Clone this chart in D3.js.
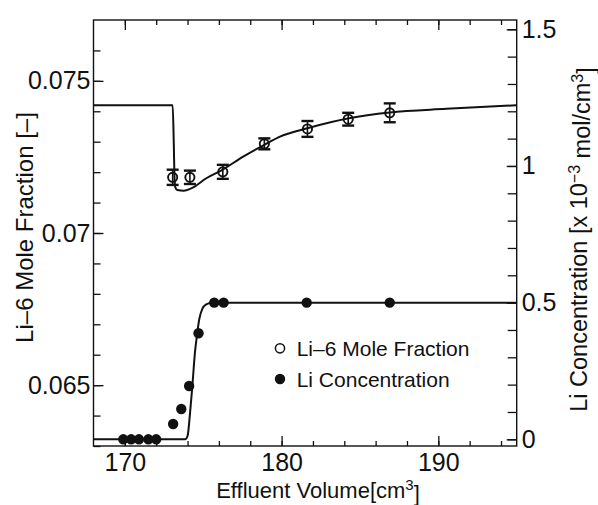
<!DOCTYPE html>
<html>
<head>
<meta charset="utf-8">
<script src="https://cdn.jsdelivr.net/npm/d3@7"></script>
<style>
  html, body { margin: 0; padding: 0; background: #fff; }
  svg { display: block; }
  text { font-family: "Liberation Sans", Arial, Helvetica, sans-serif; fill: #111; }
</style>
</head>
<body>
<svg id="chart" width="598" height="505"></svg>
<script>
// ---- Data ----
// Li-6 mole fraction measurements (open circles, with error bars)
const li6X   = [173.05, 174.15, 176.25, 178.9, 181.65, 184.25, 186.9];
const li6Y   = [0.07183, 0.07183, 0.07201, 0.07293, 0.07342, 0.07374, 0.07395];
const li6Err = [0.00025, 0.00022, 0.00023, 0.00018, 0.00026, 0.00021, 0.00031];

// Li concentration measurements (filled circles), x 10^-3 mol/cm^3
const concX = [169.9, 170.4, 170.9, 171.5, 172.0, 173.08, 173.6, 174.1, 174.7, 175.7, 176.3, 181.6, 186.9];
const concY = [0, 0, 0, 0, 0, 0.056, 0.111, 0.195, 0.388, 0.5, 0.5, 0.5, 0.5];

// Calculated curves
const li6FitX = [168, 173.05, 173.12, 173.17, 173.22, 173.35, 173.75, 174.36, 175.2, 176.2, 177.55, 178.9, 179.9, 181.7, 184.3, 186.9, 190.5, 195];
const li6FitY = [0.0742, 0.0742, 0.0730, 0.0718, 0.0715, 0.07141, 0.07139, 0.0715, 0.0718, 0.07207, 0.07251, 0.0729, 0.07317, 0.07345, 0.07377, 0.07396, 0.07408, 0.0742];

const concFitX = [168, 173.85, 174.0, 174.15, 174.3, 174.47, 174.6, 174.75, 174.95, 175.2, 175.55, 195];
const concFitY = [0, 0, 0.012, 0.09, 0.19, 0.316, 0.38, 0.44, 0.478, 0.494, 0.5, 0.5];

// Ticks
const xMajorTicks = [170, 180, 190];
const xMinorTicks = [170, 172, 174, 176, 178, 180, 182, 184, 186, 188, 190, 192, 194];
const yLMajorTicks = [0.065, 0.07, 0.075];
const yLMinorTicks = [0.063, 0.064, 0.065, 0.066, 0.067, 0.068, 0.069, 0.07, 0.071, 0.072, 0.073, 0.074, 0.075, 0.076];
const yRMajorTicks = [0, 0.5, 1, 1.5];
const yRMinorTicks = [0, 0.1, 0.2, 0.3, 0.4, 0.5, 0.6, 0.7, 0.8, 0.9, 1.0, 1.1, 1.2, 1.3, 1.4, 1.5];

const legendLabels = ["Li\u20136 Mole Fraction", "Li Concentration"];

// ---- Layout ----
const L = 93.5, R = 516.7, T = 20, B = 446;
const svg = d3.select("#chart");
const ink = "#111";

const x  = d3.scaleLinear().domain([168, 195]).range([L, R]);
const yL = d3.scaleLinear().domain([0.063, 0.077]).range([B, T]);
const yR = d3.scaleLinear().domain([-0.0245, 1.534]).range([B, T]);

function styleAxis(g, fontSize) {
  g.select(".domain").remove();
  g.selectAll(".tick line").attr("stroke", ink).attr("stroke-width", 1.3);
  g.selectAll(".tick text").attr("fill", ink).style("font-size", fontSize + "px")
    .style("font-family", "'Liberation Sans', Arial, Helvetica, sans-serif");
}

// Bottom axis
svg.append("g").attr("transform", `translate(0,${B})`)
  .call(d3.axisBottom(x).tickValues(xMinorTicks).tickSize(-5).tickFormat(""))
  .call(g => styleAxis(g, 25));
svg.append("g").attr("transform", `translate(0,${B})`)
  .call(d3.axisBottom(x).tickValues(xMajorTicks).tickSize(-10).tickPadding(7.5).tickFormat(d => String(d)))
  .call(g => styleAxis(g, 25));
// Top axis (ticks only)
svg.append("g").attr("transform", `translate(0,${T})`)
  .call(d3.axisTop(x).tickValues(xMinorTicks).tickSize(-5).tickFormat(""))
  .call(g => styleAxis(g, 25));
svg.append("g").attr("transform", `translate(0,${T})`)
  .call(d3.axisTop(x).tickValues(xMajorTicks).tickSize(-10).tickFormat(""))
  .call(g => styleAxis(g, 25));

// Left axis
svg.append("g").attr("transform", `translate(${L},0)`)
  .call(d3.axisLeft(yL).tickValues(yLMinorTicks).tickSize(-7).tickFormat(""))
  .call(g => styleAxis(g, 25));
svg.append("g").attr("transform", `translate(${L},0)`)
  .call(d3.axisLeft(yL).tickValues(yLMajorTicks).tickSize(-10).tickPadding(3).tickFormat(d => String(d)))
  .call(g => styleAxis(g, 25));

// Right axis
svg.append("g").attr("transform", `translate(${R},0)`)
  .call(d3.axisRight(yR).tickValues(yRMinorTicks).tickSize(-9).tickFormat(""))
  .call(g => styleAxis(g, 25));
svg.append("g").attr("transform", `translate(${R},0)`)
  .call(d3.axisRight(yR).tickValues(yRMajorTicks).tickSize(-10).tickPadding(5).tickFormat(d => String(d)))
  .call(g => styleAxis(g, 25));

// Frame
svg.append("rect").attr("x", L).attr("y", T).attr("width", R - L).attr("height", B - T)
  .attr("fill", "none").attr("stroke", ink).attr("stroke-width", 1.4);

// Fit curves
const li6Line = d3.line().x(d => x(d[0])).y(d => yL(d[1])).curve(d3.curveMonotoneX);
const concLine = d3.line().x(d => x(d[0])).y(d => yR(d[1])).curve(d3.curveMonotoneX);

svg.append("path").datum(li6FitX.map((v, i) => [v, li6FitY[i]]))
  .attr("d", li6Line).attr("fill", "none").attr("stroke", ink).attr("stroke-width", 2);
svg.append("path").datum(concFitX.map((v, i) => [v, concFitY[i]]))
  .attr("d", concLine).attr("fill", "none").attr("stroke", ink).attr("stroke-width", 2);

// Error bars
const li6Data = li6X.map((v, i) => ({ x: v, y: li6Y[i], e: li6Err[i] }));
const eb = svg.append("g");
li6Data.forEach(d => {
  const cx = x(d.x), y1 = yL(d.y - d.e), y2 = yL(d.y + d.e);
  eb.append("line").attr("x1", cx).attr("x2", cx).attr("y1", y1).attr("y2", y2)
    .attr("stroke", ink).attr("stroke-width", 1.6);
  [y1, y2].forEach(yy => eb.append("line").attr("x1", cx - 6).attr("x2", cx + 6)
    .attr("y1", yy).attr("y2", yy).attr("stroke", ink).attr("stroke-width", 2.4));
});
// Open circles
svg.append("g").selectAll("circle").data(li6Data).join("circle")
  .attr("cx", d => x(d.x)).attr("cy", d => yL(d.y)).attr("r", 4.6)
  .attr("fill", "none").attr("stroke", ink).attr("stroke-width", 1.9);

// Filled circles
svg.append("g").selectAll("circle").data(concX.map((v, i) => ({ x: v, y: concY[i] }))).join("circle")
  .attr("cx", d => x(d.x)).attr("cy", d => yR(d.y)).attr("r", 5.2)
  .attr("fill", ink);

// Legend
const lg = svg.append("g");
lg.append("circle").attr("cx", 280).attr("cy", 348.3).attr("r", 4.6)
  .attr("fill", "none").attr("stroke", ink).attr("stroke-width", 1.5);
lg.append("circle").attr("cx", 280).attr("cy", 379).attr("r", 5.2).attr("fill", ink);
lg.append("text").attr("x", 296.7).attr("y", 348.3).attr("dy", "0.36em")
  .style("font-size", "21px").text(legendLabels[0]);
lg.append("text").attr("x", 296.7).attr("y", 379).attr("dy", "0.36em")
  .style("font-size", "21px").text(legendLabels[1]);

// Axis titles
svg.append("text").attr("transform", "translate(33,227.5) rotate(-90)")
  .attr("text-anchor", "middle").style("font-size", "24px")
  .text("Li\u20136 Mole Fraction [\u2013]");

const rt = svg.append("text").attr("transform", "translate(587,239.5) rotate(-90)")
  .attr("text-anchor", "middle").style("font-size", "23.5px");
rt.append("tspan").text("Li Concentration [x 10");
rt.append("tspan").attr("dy", "-0.45em").style("font-size", "16px").text("\u22123");
rt.append("tspan").attr("dy", "0.45em").text(" mol/cm");
rt.append("tspan").attr("dy", "-0.45em").style("font-size", "16px").text("3");
rt.append("tspan").attr("dy", "0.45em").text("]");

const xt = svg.append("text").attr("x", 318).attr("y", 497.5)
  .attr("text-anchor", "middle").style("font-size", "22px");
xt.append("tspan").text("Effluent Volume[cm");
xt.append("tspan").attr("dy", "-0.5em").style("font-size", "15px").text("3");
xt.append("tspan").attr("dy", "0.5em").text("]");
</script>
</body>
</html>
